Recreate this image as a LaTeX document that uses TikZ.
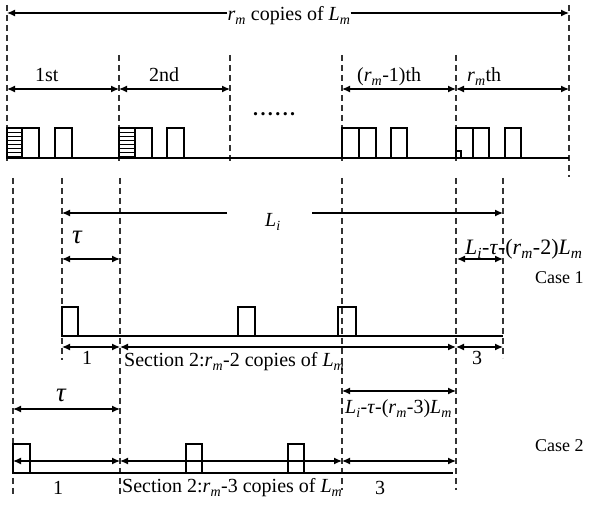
\documentclass[tikz,border=0pt]{standalone}
\usepackage{fontspec}
\setmainfont{Liberation Serif}
\usetikzlibrary{arrows.meta}
\usetikzlibrary{positioning}
\tikzstyle{guide} = [draw, black!80, line width=1.1pt, dash pattern=on 6pt off 4pt]
\tikzstyle{span} = [draw, line width=1.2pt, {Latex[length=8pt,width=7pt]}-{Latex[length=8pt,width=7pt]}]
\tikzstyle{tip} = [draw, line width=1.2pt, -{Latex[length=8pt,width=7pt]}]
\tikzstyle{pulse} = [draw, line width=1.1pt]
\tikzstyle{lbl} = [inner sep=0pt, anchor=base west, font=\fontsize{20}{22}\selectfont]
\tikzstyle{case} = [inner sep=0pt, anchor=base west, font=\fontsize{18}{20}\selectfont]
\newcommand{\Lsub}[1]{\textit{L}\textsubscript{\textit{#1}}}
\newcommand{\rmsub}{\textit{r}\textsubscript{\textit{m}}}
\newcommand{\bigtau}{{\fontsize{27}{27}\selectfont\textit{τ}}}

\begin{document}
\begin{tikzpicture}[x=1pt,y=-1pt]
    \useasboundingbox (0,0) rectangle (590,505);
    % Guide lines
    \foreach \x/\a/\b in {7/5/162, 569/5/177, 119/55/162, 230/55/162, 342/55/162, 456/55/162}
        \draw[guide] (\x,\a) -- (\x,\b);
    \foreach \x/\a/\b in {13/178/496, 62/178/360, 120/178/496, 342/178/490, 456/178/490, 503/178/358}
        \draw[guide] (\x,\a) -- (\x,\b);

    % Place nodes
    \node[lbl, anchor=base] (copies) at (289,21) {\rmsub{} copies of \Lsub{m}};
    \node[lbl] (first) at (35,82) {1st};
    \node[lbl] (second) at (149,82) {2nd};
    \node[lbl] (prelast) at (357,82) {(\rmsub-1)th};
    \node[lbl] (last) at (467,82) {\rmsub{}th};
    \node[lbl, font=\bfseries\fontsize{20}{22}\selectfont] (dots) at (253,116) {.\hspace{2.4pt}.\hspace{2.4pt}.\hspace{2.4pt}.\hspace{2.4pt}.\hspace{2.4pt}.};

    \node[lbl] (Li) at (265,227) {\Lsub{i}};
    \node[lbl] (tauA) at (72,244) {\bigtau};
    \node[lbl, font=\fontsize{22}{24}\selectfont] (restA) at (465,255) {\Lsub{i}-\textit{τ}-(\rmsub-2)\Lsub{m}};
    \node[case] (caseA) at (535,284) {Case 1};
    \node[lbl] (oneA) at (82,365) {1};
    \node[lbl] (secA) at (124,367) {Section 2:\rmsub-2 copies of \Lsub{m}};
    \node[lbl] (threeA) at (472,365) {3};

    \node[lbl] (tauB) at (56,402) {\bigtau};
    \node[lbl] (restB) at (345,414) {\Lsub{i}-\textit{τ}-(\rmsub-3)\Lsub{m}};
    \node[case] (caseB) at (535,452) {Case 2};
    \node[lbl] (oneB) at (53,494) {1};
    \node[lbl] (secB) at (122,493) {Section 2:\rmsub-3 copies of \Lsub{m}};
    \node[lbl] (threeB) at (375,494) {3};

    % Coordinates for the spans
    \coordinate (topL) at (7,13);
    \coordinate (topR) at (569,13);
    \foreach \n/\x in {0/7,1/119,2/230,3/342,4/456,5/569}
        \coordinate (s\n) at (\x,89);
    \coordinate (LiL) at (62,213);
    \coordinate (LiA) at (227,213);
    \coordinate (LiB) at (312,213);
    \coordinate (LiR) at (503,213);
    \coordinate (tA0) at (62,259);
    \coordinate (tA1) at (120,259);
    \coordinate (rA0) at (457,259);
    \coordinate (rA1) at (503,259);
    \foreach \n/\x in {0/62,1/120,2/456,3/503}
        \coordinate (a\n) at (\x,347);
    \coordinate (tB0) at (13,409);
    \coordinate (tB1) at (120,409);
    \coordinate (rB0) at (342,391);
    \coordinate (rB1) at (456,391);
    \foreach \n/\x in {0/13,1/120,2/342,3/456}
        \coordinate (b\n) at (\x,461);

    % Draw spans
    \draw[tip] (copies.west |- topL) -- (topL);
    \draw[tip] (copies.east |- topR) -- (topR);
    \draw[span] (s0) -- (s1);
    \draw[span] (s1) -- (s2);
    \draw[span] (s3) -- (s4);
    \draw[span] (s4) -- (s5);
    \draw[tip] (LiA) -- (LiL);
    \draw[tip] (LiB) -- (LiR);
    \draw[span] (tA0) -- (tA1);
    \draw[span] (rA0) -- (rA1);
    \draw[span] (a0) -- (a1);
    \draw[span] (a1) -- (a2);
    \draw[span] (a2) -- (a3);
    \draw[span] (tB0) -- (tB1);
    \draw[span] (rB0) -- (rB1);
    \draw[span] (b0) -- (b1);
    \draw[span] (b1) -- (b2);
    \draw[span] (b2) -- (b3);

    % Time lines and pulses
    \draw[pulse] (7,158) -- (569,158);
    \foreach \a/\b in {7/22,22/39,55/72,119/135,135/152,167/184,342/359,359/376,391/407,456/473,473/489,505/521}
        \draw[pulse] (\a,158) rectangle (\b,128);
    \foreach \y in {132,136,...,156} {
        \draw[line width=0.8pt] (7,\y) -- (22,\y);
        \draw[line width=0.8pt] (119,\y) -- (135,\y);
    }
    \draw[pulse] (456,158) rectangle (461,151);

    \draw[pulse] (62,336) -- (503,336);
    \foreach \a/\b in {62/78,238/255,338/356}
        \draw[pulse] (\a,336) rectangle (\b,307);

    \draw[pulse] (13,473) -- (453,473);
    \foreach \a/\b in {13/30,186/202,288/304}
        \draw[pulse] (\a,473) rectangle (\b,444);
\end{tikzpicture}
\end{document}
